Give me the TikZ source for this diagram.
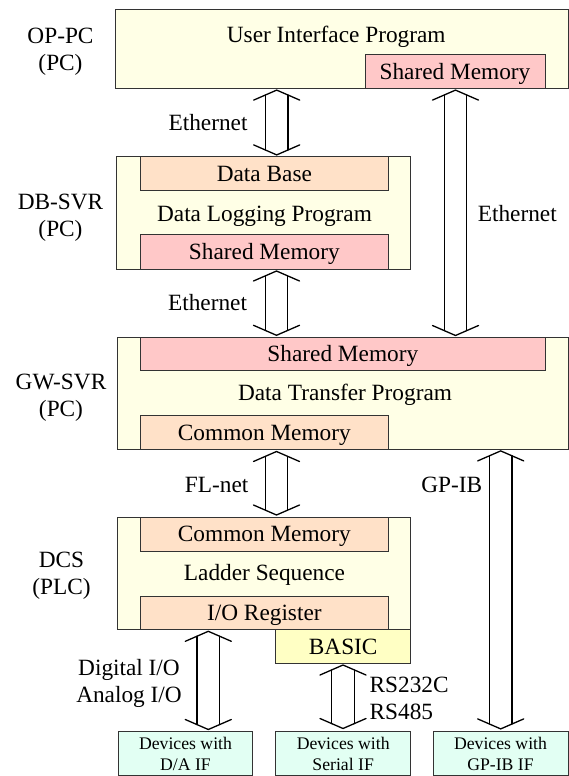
\documentclass[tikz,border=0pt]{standalone}
\usepackage{fontspec}
\setmainfont{Liberation Serif}
\usetikzlibrary{calc}
\definecolor{hostfill}{HTML}{FFFFE6}
\definecolor{smfill}{HTML}{FFC8C8}
\definecolor{cmfill}{HTML}{FFE1C8}
\definecolor{basicfill}{HTML}{FFFFC4}
\definecolor{devfill}{HTML}{E2FFF3}
\newcommand\bigfont{\fontsize{23.3}{27}\selectfont}
\newcommand\smallfont{\fontsize{17.7}{21}\selectfont}
\tikzset{
  outline/.style={draw=black!80, line width=0.8pt, inner sep=0pt, outer sep=0pt},
  hostbox/.style={outline, fill=hostfill},
  smbox/.style={outline, fill=smfill, font=\bigfont, text height=15.4pt, text depth=0pt},
  cmbox/.style={outline, fill=cmfill, font=\bigfont, text height=15.4pt, text depth=0pt},
  basicbox/.style={outline, fill=basicfill, font=\bigfont, text height=15.4pt, text depth=0pt},
  devbox/.style={outline, fill=devfill, font=\smallfont, align=center},
  onetext/.style={font=\bigfont, inner sep=0pt, text height=15.4pt, text depth=0pt},
  multitext/.style={font=\bigfont, inner sep=0pt, align=center},
  arrowline/.style={draw=black, line width=1.3pt, line cap=round, line join=miter},
}
\newcommand\dblarrow[2]{%
  \draw[arrowline] ($(#1)+(-23,10)$) -- (#1) -- ($(#1)+(23,10)$);
  \draw[arrowline] ($(#2)+(-23,-10)$) -- (#2) -- ($(#2)+(23,-10)$);
  \draw[arrowline] ($(#1)+(-11.3,4.9)$) -- ($(#2)+(-11.3,-4.9)$);
  \draw[arrowline] ($(#1)+(11.3,4.9)$) -- ($(#2)+(11.3,-4.9)$);
}
\begin{document}
\begin{tikzpicture}[x=1pt, y=-1pt]
\useasboundingbox (0,0) rectangle (569,776);

% OP-PC
\node[hostbox, minimum width=453, minimum height=79] (op) at (341.5,48.8) {};
\node[onetext] (optitle) at (336.2,35) {User Interface Program};
\node[smbox, minimum width=180, minimum height=34] (opsm) at (455,71.3) {Shared Memory};
\node[multitext] (oplab) at (60.5,52) {OP-PC\\(PC)};

% DB-SVR
\node[hostbox, minimum width=294, minimum height=112.3] (db) at (263.7,212.85) {};
\node[cmbox, minimum width=247.3, minimum height=33.3] (dbdb) at (264.35,173.35) {Data Base};
\node[onetext] (dbtitle) at (264.5,214) {Data Logging Program};
\node[smbox, minimum width=247.3, minimum height=34.3] (dbsm) at (264.35,251.85) {Shared Memory};
\node[multitext] (dblab) at (60.5,218) {DB-SVR\\(PC)};

% GW-SVR
\node[hostbox, minimum width=451, minimum height=112.4] (gw) at (342.5,393.5) {};
\node[smbox, minimum width=404.3, minimum height=32.7] (gwsm) at (342.85,353.65) {Shared Memory};
\node[onetext] (gwtitle) at (345,393) {Data Transfer Program};
\node[cmbox, minimum width=247.3, minimum height=34.4] (gwcm) at (264.35,432.5) {Common Memory};
\node[multitext] (gwlab) at (61,398) {GW-SVR\\(PC)};

% DCS
\node[hostbox, minimum width=293.7, minimum height=112.7] (dcs) at (263.85,573.35) {};
\node[cmbox, minimum width=247.3, minimum height=34.3] (dcscm) at (264.35,534.15) {Common Memory};
\node[onetext] (dcstitle) at (264.5,573) {Ladder Sequence};
\node[cmbox, minimum width=247.3, minimum height=33.7] (dcsio) at (264.35,612.85) {I/O Register};
\node[basicbox, minimum width=135, minimum height=33.3] (basic) at (343.2,646.35) {BASIC};
\node[multitext] (dcslab) at (61.5,575.6) {DCS\\(PLC)};

% Devices
\node[devbox, minimum width=134.4, minimum height=44.4] (devda) at (185.5,753.5) {Devices with\\D/A IF};
\node[devbox, minimum width=135, minimum height=44.4] (devser) at (343.2,753.5) {Devices with\\Serial IF};
\node[devbox, minimum width=135, minimum height=44.4] (devgp) at (500.5,753.5) {Devices with\\GP-IB IF};

% arrow end points
\coordinate (a1t) at ($(276.7,0 |- op.south)+(0,1.8)$);
\coordinate (a1b) at ($(276.7,0 |- db.north)+(0,-1.8)$);
\coordinate (a2t) at ($(455.5,0 |- opsm.south)+(0,1.8)$);
\coordinate (a2b) at ($(455.5,0 |- gw.north)+(0,-1.8)$);
\coordinate (a3t) at ($(276.5,0 |- db.south)+(0,2)$);
\coordinate (a3b) at ($(276.5,0 |- gw.north)+(0,-2)$);
\coordinate (a4t) at ($(276.5,0 |- gwcm.south)+(0,1.8)$);
\coordinate (a4b) at ($(276.5,0 |- dcs.north)+(0,-2)$);
\coordinate (a5t) at ($(500.7,0 |- gw.south)+(0,1.2)$);
\coordinate (a5b) at ($(500.7,0 |- devgp.north)+(0,-2.4)$);
\coordinate (a6t) at ($(208.3,0 |- dcsio.south)+(0,1.6)$);
\coordinate (a6b) at ($(208.3,0 |- devda.north)+(0,-1.8)$);
\coordinate (a7t) at ($(343,0 |- basic.south)+(0,2)$);
\coordinate (a7b) at ($(343,0 |- devser.north)+(0,-2.8)$);

\dblarrow{a1t}{a1b}
\dblarrow{a2t}{a2b}
\dblarrow{a3t}{a3b}
\dblarrow{a4t}{a4b}
\dblarrow{a5t}{a5b}
\dblarrow{a6t}{a6b}
\dblarrow{a7t}{a7b}

% connector labels
\node[onetext] (l1) at (208,122.7) {Ethernet};
\node[onetext] (l2) at (517.3,214) {Ethernet};
\node[onetext] (l3) at (207.5,302.3) {Ethernet};
\node[onetext] (l4) at (216.7,484.7) {FL-net};
\node[onetext] (l5) at (451.7,484.7) {GP-IB};
\node[multitext] (l6) at (129,683.5) {Digital I/O\\Analog I/O};
\node[multitext, anchor=west, align=left] (l7) at (369.4,698.7) {RS232C\\RS485};
\end{tikzpicture}
\end{document}
